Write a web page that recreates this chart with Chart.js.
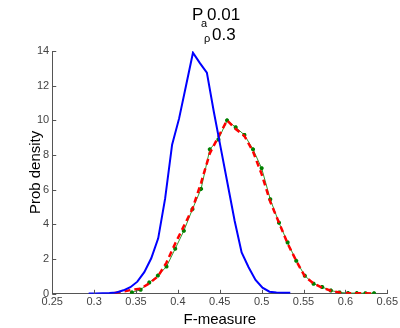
<!DOCTYPE html>
<html>
<head>
<meta charset="utf-8">
<script src="https://cdn.jsdelivr.net/npm/chart.js@4"></script>
<style>
    html, body { margin: 0; padding: 0; background: #ffffff; }
    #wrap { width: 400px; height: 328px; position: relative; }
</style>
</head>
<body>
<div id="wrap"><canvas id="chart"></canvas></div>
<script>
// x ticks and y ticks
const xTicks = [0.25, 0.3, 0.35, 0.4, 0.45, 0.5, 0.55, 0.6, 0.65];
const yTicks = [0, 2, 4, 6, 8, 10, 12, 14];

// blue: empirical density (solid)
const blueX = [0.2935, 0.3018, 0.3101, 0.3184, 0.3267, 0.3350, 0.3433, 0.3516, 0.3599, 0.3682,
    0.3765, 0.3848, 0.3931, 0.4014, 0.4097, 0.4180, 0.4263, 0.4346, 0.4429, 0.4512,
    0.4595, 0.4678, 0.4761, 0.4844, 0.4927, 0.5010, 0.5093, 0.5176, 0.5259, 0.5342];
const blueY = [0.02, 0.02, 0.03, 0.04, 0.08, 0.2, 0.38, 0.7, 1.25, 2.05,
    3.2, 5.5, 8.6, 10.1, 12.0, 13.9, 13.3, 12.75, 10.5, 8.4,
    6.3, 4.2, 2.38, 1.53, 0.8, 0.35, 0.12, 0.07, 0.06, 0.06];

// red: dashed curve
const redX = [0.3245, 0.3348, 0.3451, 0.3555, 0.3658, 0.3761, 0.3864, 0.3968, 0.4071, 0.4174,
    0.4277, 0.4381, 0.4484, 0.4587, 0.4690, 0.4794, 0.4897, 0.5000, 0.5103, 0.5207,
    0.5310, 0.5413, 0.5516, 0.5620, 0.5723, 0.5826, 0.5929, 0.6032, 0.6136, 0.6239, 0.6342];
const redY = [0.05, 0.13, 0.23, 0.3, 0.6, 1.0, 1.8, 2.9, 3.9, 4.9,
    6.4, 8.1, 9.06, 10.0, 9.5, 9.1, 8.2, 6.9, 5.3, 4.1,
    2.9, 1.9, 1.0, 0.6, 0.35, 0.18, 0.07, 0.04, 0.03, 0.03, 0.02];

// green: thin line with markers
const greenX = [0.3451, 0.3555, 0.3658, 0.3761, 0.3864, 0.3968, 0.4071, 0.4174, 0.4277, 0.4381,
    0.4484, 0.4587, 0.4690, 0.4794, 0.4897, 0.5000, 0.5103, 0.5207, 0.5310, 0.5413,
    0.5516, 0.5620, 0.5723, 0.5826, 0.5929, 0.6032, 0.6136, 0.6239, 0.6342];
const greenY = [0.08, 0.23, 0.65, 1.05, 1.57, 2.6, 3.63, 4.88, 6.05, 8.33,
    8.9, 10.0, 9.6, 9.16, 8.33, 7.24, 5.45, 4.1, 2.96, 1.9,
    1.04, 0.58, 0.39, 0.19, 0.08, 0.04, 0.04, 0.03, 0.03];

const toPoints = (xs, ys) => xs.map((x, i) => ({x: x, y: ys[i]}));

const FONT = "'Liberation Sans', Arial, sans-serif";

// title with subscript and the y label, drawn in canvas
const titlePlugin = {
    id: 'titlePlugin',
    afterDraw(chart)
    {
        const ctx = chart.ctx;
        const area = chart.chartArea;
        ctx.save();
        ctx.fillStyle = '#000000';
        ctx.textBaseline = 'alphabetic';
        ctx.textAlign = 'left';

        ctx.font = '17px ' + FONT;
        ctx.fillText('P', 192, 20);
        ctx.font = '11px ' + FONT;
        ctx.fillText('a', 201, 27);
        ctx.font = '17px ' + FONT;
        ctx.fillText('0.01', 207, 20);

        ctx.font = '11px ' + FONT;
        ctx.fillText('\u03c1', 204, 42);
        ctx.font = '17px ' + FONT;
        ctx.fillText('0.3', 212, 40);

        // y axis label
        ctx.translate(36, (area.top + area.bottom) / 2);
        ctx.rotate(-Math.PI / 2);
        ctx.textAlign = 'center';
        ctx.textBaseline = 'middle';
        ctx.font = '15px ' + FONT;
        ctx.fillText('Prob density', 0, 0);
        ctx.restore();
    }
};

// MATLAB style ticks pointing inwards
const innerTicks = {
    id: 'innerTicks',
    afterDatasetsDraw(chart)
    {
        const ctx = chart.ctx;
        const area = chart.chartArea;
        const xs = chart.scales.x;
        const ys = chart.scales.y;
        ctx.save();
        ctx.strokeStyle = '#555555';
        ctx.lineWidth = 1;
        ctx.beginPath();
        xTicks.forEach(v =>
        {
            const px = Math.round(xs.getPixelForValue(v)) + 0.5;
            ctx.moveTo(px, area.bottom);
            ctx.lineTo(px, area.bottom - 4);
        });
        yTicks.forEach(v =>
        {
            const py = Math.round(ys.getPixelForValue(v)) + 0.5;
            ctx.moveTo(area.left, py);
            ctx.lineTo(area.left + 4, py);
        });
        ctx.stroke();
        ctx.restore();
    }
};

new Chart(document.getElementById('chart'), {
    type: 'scatter',
    data: {
        datasets: [
            {
                data: toPoints(blueX, blueY),
                showLine: true,
                borderColor: '#0000ff',
                borderWidth: 2,
                pointRadius: 0,
                tension: 0,
            },
            {
                data: toPoints(redX, redY),
                showLine: true,
                borderColor: '#ff0000',
                borderWidth: 2.5,
                borderDash: [6, 4],
                pointRadius: 0,
                tension: 0,
            },
            {
                data: toPoints(greenX, greenY),
                showLine: true,
                borderColor: '#2e9a2e',
                borderWidth: 1,
                pointStyle: 'star',
                pointRadius: 2,
                pointBorderColor: '#008000',
                pointBorderWidth: 1.5,
                tension: 0,
            }
        ]
    },
    options: {
        responsive: true,
        maintainAspectRatio: false,
        animation: false,
        events: [],
        layout: {
            padding: {top: 51, right: 0, bottom: 0, left: 34}
        },
        plugins: {
            legend: {display: false},
            tooltip: {enabled: false},
        },
        scales: {
            x: {
                type: 'linear',
                min: 0.25,
                max: 0.65,
                afterBuildTicks: (scale) => { scale.ticks = xTicks.map(v => ({value: v})); },
                grid: {display: false, drawTicks: false},
                border: {display: true, color: '#555555', width: 1},
                ticks: {
                    color: '#444444',
                    font: {family: FONT, size: 11},
                    padding: 2,
                    maxRotation: 0,
                    callback: (v) => String(v),
                },
                title: {
                    display: true,
                    text: 'F-measure',
                    color: '#000000',
                    font: {family: FONT, size: 15, lineHeight: 1},
                    padding: {top: 1, bottom: 1},
                }
            },
            y: {
                type: 'linear',
                min: 0,
                max: 14,
                afterBuildTicks: (scale) => { scale.ticks = yTicks.map(v => ({value: v})); },
                grid: {display: false, drawTicks: false},
                border: {display: true, color: '#555555', width: 1},
                ticks: {
                    color: '#444444',
                    font: {family: FONT, size: 11},
                    padding: 3,
                    callback: (v) => String(v),
                },
                title: {display: false}
            }
        }
    },
    plugins: [titlePlugin, innerTicks]
});
</script>
</body>
</html>
